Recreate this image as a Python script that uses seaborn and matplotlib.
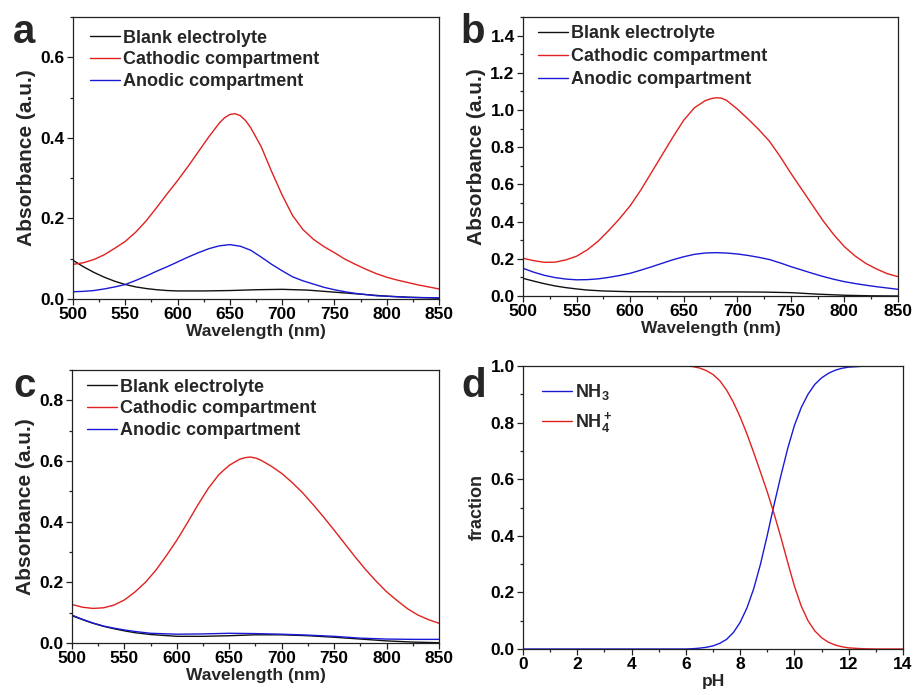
import numpy as np
import pandas as pd
import matplotlib
matplotlib.use("Agg")
import matplotlib.pyplot as plt
from matplotlib.ticker import MultipleLocator, FormatStrFormatter
import seaborn as sns

# ---------------- data ----------------
# Panel a
wl_a = [500, 510, 520, 530, 540, 550, 560, 570, 580, 590, 600, 610, 620, 630, 640, 645, 650, 655, 660,
        665, 670, 680, 690, 700, 710, 720, 730, 740, 750, 760, 770, 780, 790, 800, 810, 820, 830, 840,
        850]
a_cath = [0.086, 0.090, 0.098, 0.110, 0.126, 0.143, 0.166, 0.194, 0.227, 0.261, 0.294, 0.329, 0.366,
          0.403, 0.437, 0.450, 0.458, 0.460, 0.455, 0.443, 0.425, 0.378, 0.316, 0.258, 0.207, 0.172,
          0.148, 0.130, 0.115, 0.099, 0.086, 0.074, 0.063, 0.054, 0.047, 0.041, 0.035, 0.030, 0.025]
wl_a2 = [500, 510, 520, 530, 540, 550, 560, 570, 580, 590, 600, 610, 620, 630, 640, 650, 660, 670,
         680, 690, 700, 710, 720, 730, 740, 750, 760, 770, 780, 790, 800, 820, 850]
a_anod = [0.018, 0.019, 0.021, 0.025, 0.030, 0.036, 0.046, 0.057, 0.069, 0.080, 0.092, 0.104, 0.115,
          0.125, 0.132, 0.135, 0.131, 0.121, 0.104, 0.086, 0.070, 0.055, 0.045, 0.037, 0.029, 0.023,
          0.018, 0.014, 0.011, 0.008, 0.007, 0.004, 0.003]
wl_a3 = [500, 510, 520, 530, 540, 550, 560, 570, 580, 590, 600, 625, 650, 675, 700, 725, 750, 775,
         800, 825, 850]
a_blank = [0.096, 0.080, 0.066, 0.054, 0.044, 0.036, 0.030, 0.026, 0.023, 0.021, 0.020, 0.020, 0.021,
           0.023, 0.024, 0.022, 0.017, 0.012, 0.007, 0.004, 0.002]

# Panel b
wl_b = [500, 510, 520, 530, 540, 550, 560, 570, 580, 590, 600, 610, 620, 630, 640, 650, 660, 670,
        675, 680, 685, 690, 700, 710, 720, 730, 740, 750, 760, 770, 780, 790, 800, 810, 820, 830, 840,
        850]
b_cath = [0.203, 0.190, 0.181, 0.182, 0.194, 0.214, 0.248, 0.294, 0.352, 0.415, 0.485, 0.570, 0.665,
          0.760, 0.855, 0.945, 1.012, 1.050, 1.060, 1.066, 1.064, 1.052, 1.005, 0.952, 0.895, 0.832,
          0.750, 0.660, 0.575, 0.490, 0.405, 0.330, 0.265, 0.215, 0.175, 0.145, 0.120, 0.104]
wl_b2 = [500, 510, 520, 530, 540, 550, 560, 570, 580, 590, 600, 610, 620, 630, 640, 650, 660, 670,
         680, 690, 700, 710, 720, 730, 740, 750, 760, 770, 780, 790, 800, 810, 820, 830, 840, 850]
b_anod = [0.149, 0.128, 0.111, 0.099, 0.091, 0.087, 0.088, 0.092, 0.100, 0.110, 0.122, 0.139, 0.157,
          0.176, 0.195, 0.211, 0.224, 0.231, 0.233, 0.231, 0.226, 0.218, 0.208, 0.196, 0.178, 0.158,
          0.140, 0.122, 0.105, 0.090, 0.077, 0.067, 0.058, 0.050, 0.043, 0.036]
wl_b3 = [500, 510, 520, 530, 540, 550, 560, 575, 600, 650, 700, 725, 750, 775, 800, 825, 850]
b_blank = [0.095, 0.080, 0.066, 0.054, 0.045, 0.038, 0.032, 0.027, 0.023, 0.022, 0.022, 0.021, 0.018,
           0.010, 0.004, 0.001, 0.000]

# Panel c
wl_c = [500, 510, 520, 530, 540, 550, 560, 570, 580, 590, 600, 610, 620, 630, 640, 650, 660, 665,
        670, 675, 680, 690, 700, 710, 720, 730, 740, 750, 760, 770, 780, 790, 800, 810, 820, 830, 840,
        850]
c_cath = [0.127, 0.118, 0.114, 0.116, 0.125, 0.142, 0.168, 0.200, 0.240, 0.288, 0.339, 0.396, 0.455,
          0.510, 0.555, 0.586, 0.606, 0.611, 0.613, 0.610, 0.603, 0.583, 0.559, 0.529, 0.495, 0.456,
          0.415, 0.372, 0.328, 0.284, 0.242, 0.204, 0.169, 0.140, 0.113, 0.092, 0.077, 0.065]
wl_c2 = [500, 510, 520, 530, 540, 550, 560, 575, 600, 625, 650, 675, 700, 725, 750, 775, 800, 825, 850]
c_anod = [0.092, 0.078, 0.066, 0.056, 0.049, 0.043, 0.038, 0.032, 0.029, 0.030, 0.032, 0.031, 0.029,
          0.026, 0.022, 0.016, 0.013, 0.012, 0.012]
c_blank = [0.090, 0.077, 0.065, 0.055, 0.047, 0.040, 0.034, 0.028, 0.022, 0.022, 0.024, 0.027, 0.027,
           0.024, 0.019, 0.013, 0.007, 0.003, 0.001]

# Panel d
ph = [0, 1, 2, 3, 4, 5, 6, 6.25, 6.5, 6.75, 7, 7.25, 7.5, 7.75, 8, 8.25, 8.5, 8.75, 9, 9.25, 9.5,
      9.75, 10, 10.25, 10.5, 10.75, 11, 11.25, 11.5, 11.75, 12, 12.5, 13, 14]
nh3 = [0, 0, 0, 0, 0, 0, 0, 0.001, 0.003, 0.006, 0.011, 0.020, 0.034, 0.058, 0.094, 0.145, 0.213,
       0.300, 0.402, 0.510, 0.612, 0.708, 0.790, 0.853, 0.900, 0.935, 0.958, 0.974, 0.985, 0.992,
       0.996, 0.999, 1.0, 1.0]
nh4 = [1, 1, 1, 1, 1, 1, 1.0, 0.998, 0.993, 0.984, 0.970, 0.948, 0.915, 0.872, 0.820, 0.760, 0.694,
       0.625, 0.555, 0.478, 0.395, 0.307, 0.222, 0.152, 0.100, 0.064, 0.040, 0.024, 0.014, 0.008,
       0.004, 0.001, 0.0, 0.0]

labels = ["Blank electrolyte", "Cathodic compartment", "Anodic compartment"]
RED = "#e0211f"
BLUE = "#1a1ad6"
BLACK = "#111111"

# ---------------- styling ----------------
sns.set_theme(style="ticks")
plt.rcParams["font.family"] = ["Liberation Sans", "DejaVu Sans"]
plt.rcParams["font.weight"] = "bold"
plt.rcParams["axes.labelweight"] = "bold"
plt.rcParams["axes.linewidth"] = 0.9
plt.rcParams["axes.edgecolor"] = "#222222"
plt.rcParams["mathtext.fontset"] = "custom"
plt.rcParams["mathtext.rm"] = "Liberation Sans:bold"
plt.rcParams["mathtext.bf"] = "Liberation Sans:bold"
plt.rcParams["mathtext.default"] = "bf"

fig = plt.figure(figsize=(9.15, 6.95), dpi=100)
W, H = 915, 695


def px_axes(l, t, r, b):
    return fig.add_axes([l / W, 1 - b / H, (r - l) / W, (b - t) / H])


def style(ax, xmaj, xmin, ymaj, ymin, xlim, ylim, xlabel, ylabel, ylab_size=15):
    ax.set_xlim(*xlim)
    ax.set_ylim(*ylim)
    ax.xaxis.set_major_locator(MultipleLocator(xmaj))
    ax.xaxis.set_minor_locator(MultipleLocator(xmin))
    ax.yaxis.set_major_locator(MultipleLocator(ymaj))
    ax.yaxis.set_minor_locator(MultipleLocator(ymin))
    ax.yaxis.set_major_formatter(FormatStrFormatter("%.1f"))
    ax.tick_params(which="both", direction="out", top=False, right=False, labelsize=12.5,
                   width=0.9, colors="#222222", labelcolor="black", pad=2)
    ax.tick_params(which="major", length=4)
    ax.tick_params(which="minor", length=2.5)
    for lab in ax.get_xticklabels() + ax.get_yticklabels():
        lab.set_fontweight("bold")
    for s in ax.spines.values():
        s.set_visible(True)
    ax.set_xlabel(xlabel, fontsize=12.5, fontweight="bold", labelpad=1)
    ax.set_ylabel(ylabel, fontsize=ylab_size, fontweight="bold", labelpad=3)


def spectra(ax, wl_c_, cath, wl_an, anod, wl_bl, blank):
    df_b = pd.DataFrame({"wl": wl_bl, "A": blank})
    df_c = pd.DataFrame({"wl": wl_c_, "A": cath})
    df_a = pd.DataFrame({"wl": wl_an, "A": anod})
    kw = dict(x="wl", y="A", ax=ax, lw=1.0, estimator=None, sort=False)
    sns.lineplot(data=df_b, color=BLACK, label=labels[0], **kw)
    sns.lineplot(data=df_c, color=RED, label=labels[1], **kw)
    sns.lineplot(data=df_a, color=BLUE, label=labels[2], **kw)


def legend(ax, x_px, y_px, ax_box, spacing=0.27):
    l, t, r, b = ax_box
    ax.legend(loc="upper left", bbox_to_anchor=((x_px - l) / (r - l), (b - y_px) / (b - t)),
              frameon=False, handlelength=1.66, handletextpad=0.15,
              labelspacing=spacing, borderpad=0, borderaxespad=0,
              prop={"weight": "bold", "size": 13})


box_a = (73, 17, 439, 299)
box_b = (523, 17, 898, 296)
box_c = (72, 370, 439, 643)
box_d = (523, 366, 903, 649)

ax_a = px_axes(*box_a)
spectra(ax_a, wl_a, a_cath, wl_a2, a_anod, wl_a3, a_blank)
style(ax_a, 50, 25, 0.2, 0.1, (500, 850), (0, 0.7), "Wavelength (nm)", "Absorbance (a.u.)")
legend(ax_a, 90, 29.5, box_a)

ax_b = px_axes(*box_b)
spectra(ax_b, wl_b, b_cath, wl_b2, b_anod, wl_b3, b_blank)
style(ax_b, 50, 25, 0.2, 0.1, (500, 850), (0, 1.5), "Wavelength (nm)", "Absorbance (a.u.)")
legend(ax_b, 538, 25.5, box_b, spacing=0.32)

ax_c = px_axes(*box_c)
spectra(ax_c, wl_c, c_cath, wl_c2, c_anod, wl_c2, c_blank)
style(ax_c, 50, 25, 0.2, 0.1, (500, 850), (0, 0.9), "Wavelength (nm)", "Absorbance (a.u.)")
legend(ax_c, 87, 378.5, box_c)

ax_d = px_axes(*box_d)
df_d = pd.DataFrame({"pH": ph, "NH3": nh3, "NH4": nh4})
sns.lineplot(data=df_d, x="pH", y="NH3", ax=ax_d, color=BLUE, lw=1.0, label="NH$_3$",
             estimator=None, sort=False)
sns.lineplot(data=df_d, x="pH", y="NH4", ax=ax_d, color=RED, lw=1.0, label="NH$_4^+$",
             estimator=None, sort=False)
style(ax_d, 2, 1, 0.2, 0.1, (0, 14), (0, 1.0), "pH", "fraction", ylab_size=13)
legend(ax_d, 542, 382, box_d, spacing=0.45)

# panel letters
for letter, xp, yp in [("a", 13, 43), ("b", 460, 43), ("c", 13, 397), ("d", 461, 397)]:
    fig.text(xp / W, 1 - yp / H, letter, fontsize=29, fontweight="bold", va="baseline", ha="left")

fig.savefig("out.png", dpi=100)
